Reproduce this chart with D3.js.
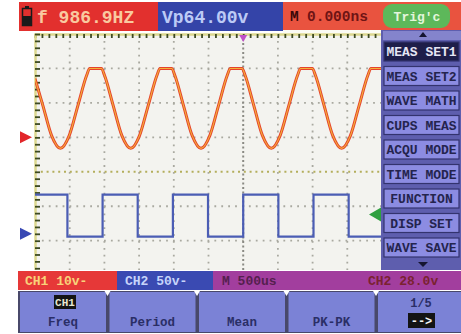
<!DOCTYPE html>
<html>
<head>
<meta charset="utf-8">
<script src="https://cdn.jsdelivr.net/npm/d3@7"></script>
<style>
  html, body { margin: 0; padding: 0; background: #ffffff; }
  svg { display: block; }
  text { font-family: "Liberation Mono", "DejaVu Sans Mono", monospace; font-weight: bold; }
</style>
</head>
<body>
<script>
// ---- Readings shown on the scope ----
const freqText = "f 986.9HZ";
const vppText = "Vp64.00v";
const delayText = "0.000ns";
const trigText = "Trig'c";
const menuItems = ["MEAS SET1", "MEAS SET2", "WAVE MATH", "CUPS MEAS", "ACQU MODE",
                   "TIME MODE", "FUNCTION", "DISP SET", "WAVE SAVE"];
const buttonLabels = ["Freq", "Period", "Mean", "PK-PK", "1/5"];
const ch1Label = "CH1 10v-";
const ch2Label = "CH2 50v-";
const timebaseLabel = "M 500us";
const trigLevelLabel = "CH2 28.0v";

// ---- Channel settings (volts) ----
const ch1Offset = 0;      // CH1 ground marker
const ch2Offset = 0;      // CH2 ground marker
const trigLevel = 28.0;   // CH2 trigger level

// ---- CH1 trace: time (us) and volts (10 V/div, tops clipped) ----
const ch1Time = [-3000, -2887, -2761, -2634, -2507, -2381, -2254, -2212, -2042, -2000,
                 -1874, -1748, -1621, -1494, -1368, -1241, -1199, -1029, -987,
                 -861, -735, -608, -481, -355, -228, -186, -16, 26,
                 152, 278, 405, 532, 658, 785, 827, 997, 1039,
                 1165, 1291, 1418, 1545, 1671, 1798, 1840, 2000];
const ch1Volts = [17.0, 9.3, 0.5, -3.2, 0.5, 9.3, 18.1, 20, 20, 18.1,
                  9.3, 0.5, -3.2, 0.5, 9.3, 18.1, 20, 20, 18.1,
                  9.3, 0.5, -3.2, 0.5, 9.3, 18.1, 20, 20, 18.1,
                  9.3, 0.5, -3.2, 0.5, 9.3, 18.1, 20, 20, 18.1,
                  9.3, 0.5, -3.2, 0.5, 9.3, 18.1, 20, 20];

// ---- CH2 trace: edge times (us) and levels (50 V/div) ----
const ch2Time = [-3000, -2533, -2026, -1520, -1013, -507, 0, 507, 1013, 1520, 2000];
const ch2Volts = [57, -4, 57, -4, 57, -4, 57, -4, 57, -4, -4];

const W = 461, H = 334;
const svg = d3.select("body").append("svg").attr("width", W).attr("height", H);

// Screen geometry
const gx0 = 35, gx1 = 382, gy0 = 34, gyFull = 309.6, gyVis = 270;

const x = d3.scaleLinear().domain([-3000, 2000]).range([gx0, gx1]);
const y1 = d3.scaleLinear().domain([-50, 30]).range([gyFull, gy0]);
const y2 = d3.scaleLinear().domain([-110, 290]).range([gyFull, gy0]);

// Screen background
svg.append("rect").attr("x", gx0).attr("y", gy0).attr("width", gx1 - gx0).attr("height", gyVis - gy0)
  .attr("fill", "#f3f3ef");

const defs = svg.append("defs");
defs.append("clipPath").attr("id", "scr").append("rect")
  .attr("x", gx0).attr("y", gy0).attr("width", gx1 - gx0).attr("height", gyVis - gy0);

// Dotted graticule
const grid = svg.append("g").attr("clip-path", "url(#scr)");
grid.selectAll("line.v").data(x.ticks(10).filter(t => t !== 0 && t !== -3000)).join("line")
  .attr("x1", d => x(d)).attr("x2", d => x(d)).attr("y1", gy0).attr("y2", gyVis)
  .attr("stroke", "#a9a9a0").attr("stroke-width", 1.8).attr("stroke-dasharray", "1.8,5.1");
grid.selectAll("line.h").data(y1.ticks(8).filter(v => v !== -10 && v !== 30)).join("line")
  .attr("x1", gx0).attr("x2", gx1).attr("y1", d => y1(d)).attr("y2", d => y1(d))
  .attr("stroke", "#a9a9a0").attr("stroke-width", 1.8).attr("stroke-dasharray", "1.8,5.1");
// centre lines, denser dots
grid.append("line").attr("x1", gx0).attr("x2", gx1).attr("y1", y1(-10)).attr("y2", y1(-10))
  .attr("stroke", "#b4ae5c").attr("stroke-width", 2).attr("stroke-dasharray", "2,3.8");
grid.append("line").attr("x1", x(0)).attr("x2", x(0)).attr("y1", gy0).attr("y2", gyVis)
  .attr("stroke", "#8a8a84").attr("stroke-width", 2).attr("stroke-dasharray", "2,2.5");

// Rulers along the top and left edges
const topAxis = svg.append("g").attr("transform", `translate(0,${gy0})`)
  .call(d3.axisBottom(x).ticks(50).tickSize(4).tickFormat(""));
const leftAxis = svg.append("g").attr("transform", `translate(${gx0},0)`)
  .call(d3.axisRight(y1).ticks(40).tickSize(5).tickFormat(""));
[topAxis, leftAxis].forEach(a => {
  a.select(".domain").attr("stroke", "#dcd890").attr("stroke-width", 2.5);
  a.selectAll(".tick line").attr("stroke", "#3d4a22").attr("stroke-width", 1.8);
});
leftAxis.selectAll(".tick").filter(d => y1(d) > gyVis).remove();
leftAxis.select(".domain").attr("d", `M0.5,${gy0}V${gyVis}`);

// Waveforms
const traces = svg.append("g").attr("clip-path", "url(#scr)");
const ch1 = ch1Time.map((t, i) => [t, ch1Volts[i]]);
const ch2 = ch2Time.map((t, i) => [t, ch2Volts[i]]);

const line1 = d3.line().x(d => x(d[0])).y(d => y1(d[1])).curve(d3.curveMonotoneX);
traces.append("path").datum(ch1).attr("d", line1).attr("fill", "none")
  .attr("stroke", "#e5432c").attr("stroke-width", 3);
traces.append("path").datum(ch1).attr("d", line1).attr("fill", "none")
  .attr("stroke", "#f3b23a").attr("stroke-width", 1.1);

const line2 = d3.line().x(d => x(d[0])).y(d => y2(d[1])).curve(d3.curveStepAfter);
traces.append("path").datum(ch2).attr("d", line2).attr("fill", "none")
  .attr("stroke", "#4b5db4").attr("stroke-width", 2.2);

// Channel / trigger markers
svg.append("path").attr("d", d3.line()([[20, y1(ch1Offset) - 6], [32, y1(ch1Offset)], [20, y1(ch1Offset) + 6]]))
  .attr("fill", "#e2262a");
svg.append("path").attr("d", d3.line()([[20, y2(ch2Offset) - 6], [32, y2(ch2Offset)], [20, y2(ch2Offset) + 6]]))
  .attr("fill", "#3848b4");
svg.append("path").attr("d", d3.line()([[gx1 - 1, y2(trigLevel) - 7], [gx1 - 13, y2(trigLevel)], [gx1 - 1, y2(trigLevel) + 7]]))
  .attr("fill", "#2fa040");
svg.append("path").attr("d", d3.line()([[x(0) - 4, gy0 + 1], [x(0) + 4, gy0 + 1], [x(0), gy0 + 8]]))
  .attr("fill", "#c050c8");

// ---- Header bar ----
svg.append("rect").attr("x", 19).attr("y", 2).attr("width", 139).attr("height", 29).attr("fill", "#e2302e");
svg.append("rect").attr("x", 158).attr("y", 2).attr("width", 125).attr("height", 29).attr("fill", "#3444a8");
svg.append("rect").attr("x", 283).attr("y", 2).attr("width", 178).attr("height", 28).attr("fill", "#e9533f");
svg.append("rect").attr("x", 283).attr("y", 30).attr("width", 98).attr("height", 3).attr("fill", "#fbfbf4");
// battery
svg.append("rect").attr("x", 22.5).attr("y", 8.5).attr("width", 9).attr("height", 17)
  .attr("fill", "#e2302e").attr("stroke", "#1a1a1a").attr("stroke-width", 1.5);
svg.append("rect").attr("x", 22.5).attr("y", 16).attr("width", 9).attr("height", 9.5).attr("fill", "#1a1a1a");
svg.append("rect").attr("x", 25).attr("y", 6).attr("width", 4).attr("height", 2.5).attr("fill", "#1a1a1a");

svg.append("text").attr("x", 37).attr("y", 23).attr("font-size", 18).attr("fill", "#f9c9a0").text(freqText);
svg.append("text").attr("x", 162).attr("y", 23).attr("font-size", 18).attr("fill", "#bccaf6").text(vppText);
svg.append("text").attr("x", 290).attr("y", 21).attr("font-size", 14.5).attr("fill", "#3a0808").text("M");
svg.append("text").attr("x", 307).attr("y", 21).attr("font-size", 14.5).attr("fill", "#6e1414").text(delayText);
svg.append("rect").attr("x", 383).attr("y", 4).attr("width", 67).attr("height", 24).attr("rx", 9)
  .attr("fill", "#5db85a");
svg.append("text").attr("x", 417).attr("y", 21).attr("font-size", 13).attr("text-anchor", "middle")
  .attr("fill", "#e4f6dc").text(trigText);

// ---- Side menu ----
svg.append("rect").attr("x", 381).attr("y", 30).attr("width", 80).attr("height", 240).attr("fill", "#5e5eae");
svg.append("rect").attr("x", 383).attr("y", 31).attr("width", 78).attr("height", 9).attr("fill", "#8484cc");
svg.append("path").attr("d", d3.line()([[419, 37], [427, 37], [423, 32]])).attr("fill", "#151530");
svg.append("path").attr("d", d3.line()([[418, 262], [428, 262], [423, 267]])).attr("fill", "#151530");

const itemY = d3.scaleLinear().domain([0, 1]).range([42, 66.5]);
const items = svg.append("g").selectAll("g").data(menuItems).join("g")
  .attr("transform", (d, i) => `translate(384,${itemY(i)})`);
items.append("rect").attr("width", 75).attr("height", 19)
  .attr("fill", (d, i) => i === 0 ? "#1e1e4a" : "#8c8ce2")
  .attr("stroke", "#33336e").attr("stroke-width", 1.2);
items.append("text").attr("x", 37.5).attr("y", 14).attr("text-anchor", "middle").attr("font-size", 13)
  .attr("fill", (d, i) => i === 0 ? "#e6e6f4" : "#24244e").text(d => d);

// ---- Status bar ----
svg.append("rect").attr("x", 18).attr("y", 271).attr("width", 99).attr("height", 19).attr("fill", "#e63838");
svg.append("rect").attr("x", 117).attr("y", 271).attr("width", 96).attr("height", 19).attr("fill", "#3a4ab2");
svg.append("rect").attr("x", 213).attr("y", 271).attr("width", 248).attr("height", 19).attr("fill", "#a23e9e");
svg.append("text").attr("x", 25).attr("y", 285).attr("font-size", 13).attr("fill", "#f8d27a").text(ch1Label);
svg.append("text").attr("x", 125).attr("y", 285).attr("font-size", 13).attr("fill", "#c6d4fa").text(ch2Label);
svg.append("text").attr("x", 222).attr("y", 285).attr("font-size", 13).attr("fill", "#55204e").text(timebaseLabel);
svg.append("text").attr("x", 368).attr("y", 285).attr("font-size", 13).attr("fill", "#7a2230").text(trigLevelLabel);

// ---- Soft-key buttons ----
const btnX = d3.scaleLinear().domain([0, 1]).range([20, 109.5]);
svg.append("rect").attr("x", 18).attr("y", 291).attr("width", 443).attr("height", 42).attr("fill", "#48486a");
const btns = svg.append("g").selectAll("g").data(buttonLabels).join("g")
  .attr("transform", (d, i) => `translate(${btnX(i)},292)`);
btns.append("rect").attr("width", 86).attr("height", 40).attr("fill", "#7b82d6");
btns.append("text").attr("x", 43).attr("y", 34).attr("text-anchor", "middle").attr("font-size", 12.5)
  .attr("fill", "#2a2e66").text((d, i) => i === 4 ? "" : d);
// notches between keys
svg.append("g").selectAll("path").data(d3.range(1, 5)).join("path")
  .attr("d", i => d3.line()([[btnX(i) - 5, 291], [btnX(i) + 1, 291], [btnX(i) - 2, 296]]))
  .attr("fill", "#ffffff");
// CH1 tag on first key
svg.append("rect").attr("x", 54).attr("y", 295).attr("width", 22).attr("height", 14).attr("fill", "#141414");
svg.append("text").attr("x", 65).attr("y", 306).attr("text-anchor", "middle").attr("font-size", 11)
  .attr("fill", "#e8e8d0").text("CH1");
// page indicator on last key
svg.append("text").attr("x", btnX(4) + 43).attr("y", 307).attr("text-anchor", "middle").attr("font-size", 12)
  .attr("fill", "#2a2e66").text(buttonLabels[4]);
svg.append("rect").attr("x", btnX(4) + 30).attr("y", 313).attr("width", 27).attr("height", 15).attr("fill", "#141414");
svg.append("text").attr("x", btnX(4) + 43.5).attr("y", 325).attr("text-anchor", "middle").attr("font-size", 12)
  .attr("fill", "#f4f4f4").text("-->");
</script>
</body>
</html>
